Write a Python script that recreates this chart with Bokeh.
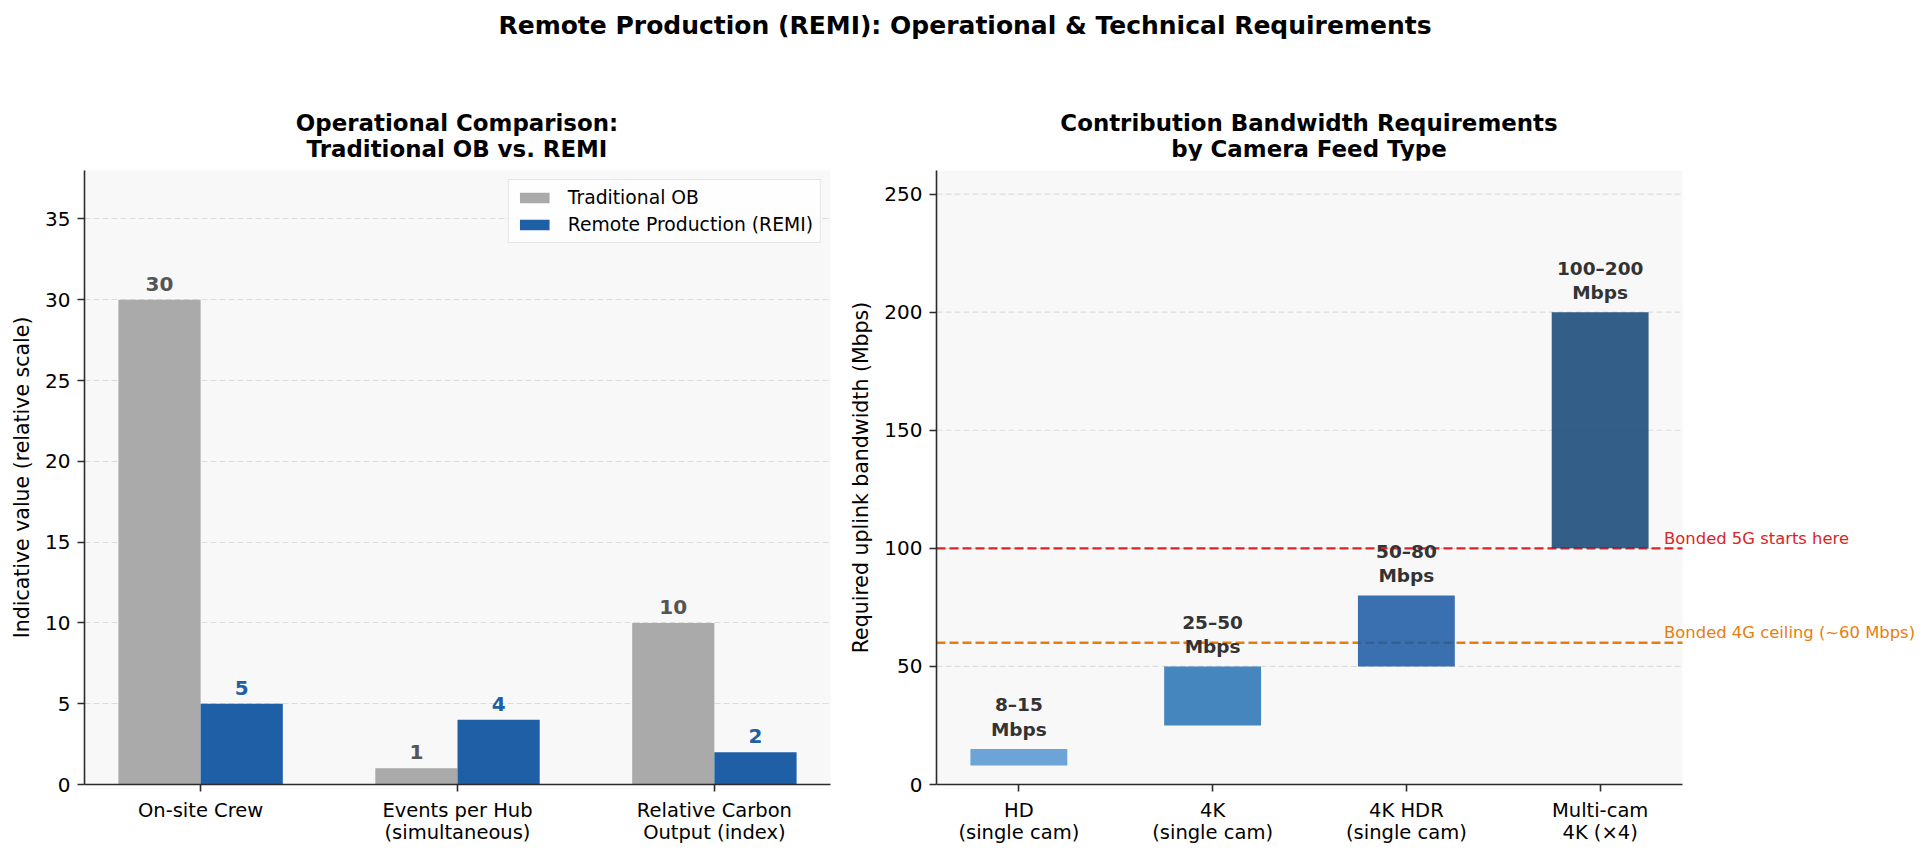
from bokeh.plotting import figure
from bokeh.models import Div, Range1d, FixedTicker, Label, BoxAnnotation
from bokeh.layouts import column, row
from bokeh.embed import file_html
from bokeh.resources import INLINE
from bokeh.core.properties import value

# ---- data -------------------------------------------------------------
suptitle = "Remote Production (REMI): Operational &amp; Technical Requirements"
left_title = ["Operational Comparison:", "Traditional OB vs. REMI"]
right_title = ["Contribution Bandwidth Requirements", "by Camera Feed Type"]

metrics = ["On-site Crew", "Events per Hub\n(simultaneous)", "Relative Carbon\nOutput (index)"]
traditional_ob = [30, 1, 10]
remi = [5, 4, 2]

feeds = ["HD\n(single cam)", "4K\n(single cam)", "4K HDR\n(single cam)", "Multi-cam\n4K (×4)"]
bw_low = [8, 25, 50, 100]
bw_high = [15, 50, 80, 200]
feed_colors = ["#5395d2", "#2772b4", "#1958a3", "#114373"]

thresholds = [100, 60]
threshold_labels = ["Bonded 5G starts here", "Bonded 4G ceiling (~60 Mbps)"]
threshold_colors = ["#d62728", "#e67e0f"]

left_yticks = list(range(0, 36, 5))
right_yticks = list(range(0, 251, 50))

FONT = "DejaVu Sans"
AXIS_COLOR = "#2b2b2b"
FRAME_BG = "#f8f8f8"
GRID_COLOR = "#dcdcdc"
HEADER_H = 160


def style_axes(p, y_label):
    p.outline_line_color = None
    p.border_fill_color = "white"
    p.xgrid.grid_line_color = None
    p.ygrid.grid_line_color = GRID_COLOR
    p.ygrid.grid_line_dash = "6 3"
    p.ygrid.grid_line_width = 1.2
    for ax in (p.xaxis[0], p.yaxis[0]):
        ax.axis_line_color = AXIS_COLOR
        ax.axis_line_width = 1.6
        ax.major_tick_line_color = AXIS_COLOR
        ax.major_tick_line_width = 1.6
        ax.major_tick_out = 7
        ax.major_tick_in = 0
        ax.minor_tick_line_color = None
        ax.major_label_text_font = FONT
        ax.major_label_text_color = "black"
        ax.major_label_standoff = 7
    p.yaxis.major_label_text_font_size = "20px"
    p.xaxis.major_label_text_font_size = "19.5px"
    p.xaxis.major_label_text_line_height = 0.97
    p.yaxis.axis_label = y_label
    p.yaxis.axis_label_text_font = FONT
    p.yaxis.axis_label_text_font_size = "20.5px"
    p.yaxis.axis_label_text_font_style = "normal"
    p.yaxis.axis_label_text_color = "black"
    p.yaxis.axis_label_standoff = 8


# ---- left: operational comparison --------------------------------------
idx = list(range(len(metrics)))
bar_w = 0.32

p1 = figure(width=845, height=858 - HEADER_H, output_backend="svg", toolbar_location=None,
            x_range=Range1d(-0.452, 2.452), y_range=Range1d(0, 38),
            min_border_left=84, min_border_right=15, min_border_top=170 - HEADER_H,
            min_border_bottom=74)
p1.background_fill_color = FRAME_BG
style_axes(p1, "Indicative value (relative scale)")

x_trad = [i - bar_w / 2 for i in idx]
x_remi = [i + bar_w / 2 for i in idx]
p1.vbar(x=x_trad, top=traditional_ob, width=bar_w, color="#aaaaaa", line_color=None,
        legend_label="Traditional OB")
p1.vbar(x=x_remi, top=remi, width=bar_w, color="#1f5fa6", line_color=None,
        legend_label="Remote Production (REMI)")

p1.text(x=x_trad, y=traditional_ob, text=[str(v) for v in traditional_ob],
        text_font=value(FONT), text_font_size="20px", text_font_style="bold",
        text_color="#555555", text_align="center", text_baseline="alphabetic", y_offset=-16)
p1.text(x=x_remi, y=remi, text=[str(v) for v in remi],
        text_font=value(FONT), text_font_size="20px", text_font_style="bold",
        text_color="#1f5fa6", text_align="center", text_baseline="alphabetic", y_offset=-16)

p1.xaxis.ticker = FixedTicker(ticks=idx)
p1.xaxis.major_label_overrides = {i: m for i, m in zip(idx, metrics)}
p1.yaxis.ticker = FixedTicker(ticks=left_yticks)

lg = p1.legend[0]
lg.location = "top_right"
lg.margin = 9
lg.padding = 7
lg.spacing = 6
lg.glyph_width = 37
lg.glyph_height = 13
lg.label_height = 21
lg.label_standoff = 15
lg.label_text_font = FONT
lg.label_text_font_size = "18.75px"
lg.label_text_color = "black"
lg.border_line_color = "#cccccc"
lg.border_line_width = 1.2
lg.background_fill_color = "white"
lg.background_fill_alpha = 0.85

# ---- right: bandwidth requirements --------------------------------------
fidx = list(range(len(feeds)))
x0, x1 = -0.425, 3.425
px_per_unit = 746 / (x1 - x0)
frame_w = 1085 - 91
p2 = figure(width=1085, height=858 - HEADER_H, output_backend="svg", toolbar_location=None,
            x_range=Range1d(x0, x0 + frame_w / px_per_unit), y_range=Range1d(0, 260),
            min_border_left=91, min_border_right=0, min_border_top=170 - HEADER_H,
            min_border_bottom=74)
p2.background_fill_color = "white"
style_axes(p2, "Required uplink bandwidth (Mbps)")
p2.ygrid.grid_line_color = None
p2.xaxis.bounds = (x0, x1)

# shaded plotting area and dashed grid confined to the category span
p2.add_layout(BoxAnnotation(left=x0, right=x1, fill_color=FRAME_BG, fill_alpha=1.0,
                            line_color=None, level="underlay"))
p2.segment(x0=[x0] * len(right_yticks), x1=[x1] * len(right_yticks),
           y0=right_yticks, y1=right_yticks, line_color=GRID_COLOR, line_width=1.2,
           line_dash="6 3")

for thr, col in zip(thresholds, threshold_colors):
    p2.line(x=[x0, x1], y=[thr, thr], line_color=col, line_width=2.4, line_dash="9 4")

p2.vbar(x=fidx, bottom=bw_low, top=bw_high, width=0.5, color=feed_colors,
        fill_alpha=0.85, line_color=None)
p2.text(x=fidx, y=bw_high, text=[f"{lo}–{hi}\nMbps" for lo, hi in zip(bw_low, bw_high)],
        text_font=value(FONT), text_font_size="18.5px", text_font_style="bold",
        text_color="#333333", text_align="center", text_baseline="bottom",
        text_line_height=1.15, y_offset=-9.5)

for thr, lab, col in zip(thresholds, threshold_labels, threshold_colors):
    p2.add_layout(Label(x=3.33, y=thr, text=lab, text_font=FONT, text_font_size="16.4px",
                        text_color=col, text_baseline="alphabetic", y_offset=10))

p2.xaxis.ticker = FixedTicker(ticks=fidx)
p2.xaxis.major_label_overrides = {i: f for i, f in zip(fidx, feeds)}
p2.yaxis.ticker = FixedTicker(ticks=right_yticks)

# ---- figure heading and panel titles ------------------------------------
def block(lines, cx, top, size, lh, half):
    return (f"<div style=\"position:absolute;left:{cx - half}px;top:{top}px;width:{2 * half}px;"
            f"text-align:center;font-family:'DejaVu Sans';font-weight:bold;font-size:{size}px;"
            f"line-height:{lh}px;color:black;white-space:nowrap;\">" + "<br>".join(lines) + "</div>")

header_html = (
    f"<div style=\"position:relative;width:1930px;height:{HEADER_H}px;\">"
    + block([suptitle], 965, 10.5, 25, 29, 550)
    + block(left_title, 457, 110, 22.9, 26, 300)
    + block(right_title, 1309, 110, 22.9, 26, 300)
    + "</div>")
header = Div(text=header_html, width=1930, height=HEADER_H, margin=0)

layout = column(header, row(p1, p2, spacing=0), spacing=0)
open("out.html", "w").write(file_html(layout, INLINE))
